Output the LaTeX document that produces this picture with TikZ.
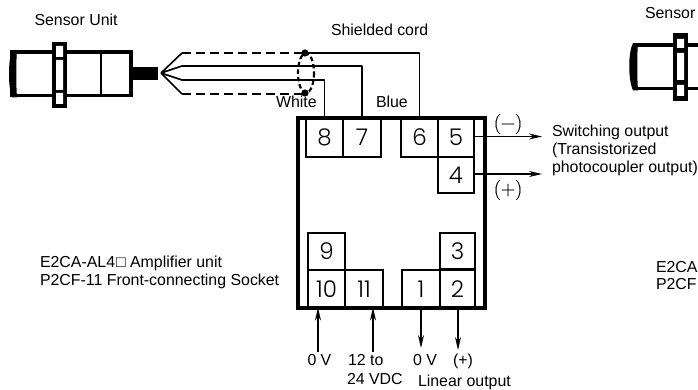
\documentclass[tikz,border=0pt]{standalone}
\usepackage{fontspec}
\usetikzlibrary{arrows.meta}
\setmainfont{Liberation Sans}
\newfontfamily\dgfont[UprightFont=* Light]{Poppins}
\newfontfamily\lmfont[FakeBold=0.4]{Latin Modern Roman}
\tikzset{
  x=1pt,y=-1pt,
  lab/.style={anchor=base west,inner sep=0,outer sep=0,font=\fontsize{15.9}{17}\selectfont},
  term/.style={draw,line width=1.6,inner sep=0,outer sep=0,font=\dgfont\fontsize{23}{23}\selectfont},
  wire/.style={line width=1.6,line join=round},
  dashwire/.style={line width=1.7,dash pattern=on 9 off 5},
  sig/.style={line width=1.5,-{Stealth[length=13,width=6]}},
  sbody/.style={line width=3.6},
  pm/.style={inner sep=0,outer sep=0,font=\lmfont\fontsize{20}{20}\selectfont}
}
\begin{document}
\begin{tikzpicture}
\useasboundingbox (0,0) rectangle (698,390);
\clip (0,0) rectangle (698,390);
% left sensor
\draw[sbody] (12,52) rectangle (131,95.5);
\fill (17,50.2) -- (12,50.2) .. controls (8,60) and (8,88) .. (12,97.3) -- (17,97.3) .. controls (16,85) and (16,62) .. (17,50.2) -- cycle;
\draw[line width=2] (101,52) -- (101,95.5);
\fill (52,42) rectangle (67,108);
\fill[white] (56,46) rectangle (63,57) (56,60) rectangle (63,90) (56,93) rectangle (63,104);
\fill (132,67) rectangle (158,80);
% right sensor (cut by the edge)
\draw[sbody] (636,45) -- (698,45) (636,88.5) -- (698,88.5);
\fill (638,43.2) -- (633,43.2) .. controls (628,52) and (628,80) .. (633,90.3) -- (638,90.3) .. controls (637,78) and (637,55) .. (638,43.2) -- cycle;
\fill (673,33) rectangle (688,101);
\fill[white] (677,39) rectangle (684,48) (677,53) rectangle (684,80) (677,85) rectangle (684,96);
% terminals
\node[term,minimum width=37,minimum height=39] (t8) at (324.5,137.5) {8};
\node[term,minimum width=38,minimum height=39] (t7) at (362,137.5) {7};
\node[term,minimum width=37,minimum height=39] (t6) at (419.5,137.5) {6};
\node[term,minimum width=36,minimum height=39] (t5) at (456,137.5) {5};
\node[term,minimum width=36,minimum height=36] (t4) at (456,175) {4};
\node[term,minimum width=37,minimum height=37] (t9) at (326.5,251.5) {9};
\node[term,minimum width=37,minimum height=38] (t10) at (326.5,289) {10};
\node[term,minimum width=38,minimum height=38] (t11) at (364,289) {11};
\node[term,minimum width=38,minimum height=38] (t1) at (421,289) {1};
\node[term,minimum width=35,minimum height=38] (t2) at (457.5,289) {2};
\node[term,minimum width=35,minimum height=36] (t3) at (457.5,251) {3};
\node[draw,line width=4,inner sep=0,outer sep=0,minimum width=186.5,minimum height=189.5] (box) at (391.25,212.75) {};
% shielded cord
\coordinate (tip) at (161,73);
\coordinate (a1) at (182,53);
\coordinate (a2) at (182,66);
\coordinate (a3) at (182,80);
\coordinate (a4) at (182,94);
\coordinate (d1) at (305,53);
\coordinate (d2) at (305,93);
\draw[wire] (tip) -- (a1) (tip) -- (a2) (tip) -- (a3) (tip) -- (a4);
\draw[dashwire] (a1) -- (d1);
\draw[dashwire] (a4) -- (d2 |- a4);
\draw[wire] (d1) -| (t6.north);
\draw[wire] (a2) -| (t7.north);
\draw[wire] (a3) -| (t8.north);
\fill (d1) circle (3.6) (d2) circle (3.6);
\draw[line width=2.2,dash pattern=on 4.5 off 3] (306,73) ellipse (8 and 20);
% signal arrows
\coordinate (o5) at (542,136.5);
\coordinate (o4) at (542,174);
\draw[sig] (t5.east |- o5) -- (o5);
\draw[sig] (t4.east |- o4) -- (o4);
\coordinate (p10) at (318,352);
\coordinate (p11) at (373,352);
\coordinate (p1) at (421,348);
\coordinate (p2) at (458,350);
\draw[sig] (p10) -- (p10 |- box.south);
\draw[sig] (p11) -- (p11 |- box.south);
\draw[sig] (p1 |- box.south) -- (p1);
\draw[sig] (p2 |- box.south) -- (p2);
% labels
\node[lab] (l1) at (34.5,26) {Sensor Unit};
\node[lab] (l2) at (331,36) {Shielded cord};
\node[lab] (l3) at (276,108) {White};
\node[lab] (l4) at (376,108) {Blue};
\node[lab] (l5) at (552,137) {Switching output};
\node[lab] (l6) at (552,154.5) {(Transistorized};
\node[lab] (l7) at (552,172) {photocoupler output)};
\node[lab] (l8) at (40,267) {E2CA-AL4\hspace{1pt}□ Amplifier unit};
\node[lab] (l9) at (40,285) {P2CF-11 Front-connecting Socket};
\node[lab] (l10) at (307.5,365.5) {0 V};
\node[lab] (l11) at (348,365.5) {12 to};
\node[lab] (l12) at (347,384) {24 VDC};
\node[lab] (l13) at (413,365.5) {0 V};
\node[lab] (l14) at (453,365.5) {(+)};
\node[lab] (l15) at (418,386.5) {Linear output};
\node[lab] (l16) at (645,19) {Sensor};
\node[lab] (l17) at (656,272) {E2CA};
\node[lab] (l18) at (656,289) {P2CF};
\node[pm] (m1) at (508,124) {(−)};
\node[pm] (m2) at (508,190) {(+)};
\end{tikzpicture}
\end{document}
